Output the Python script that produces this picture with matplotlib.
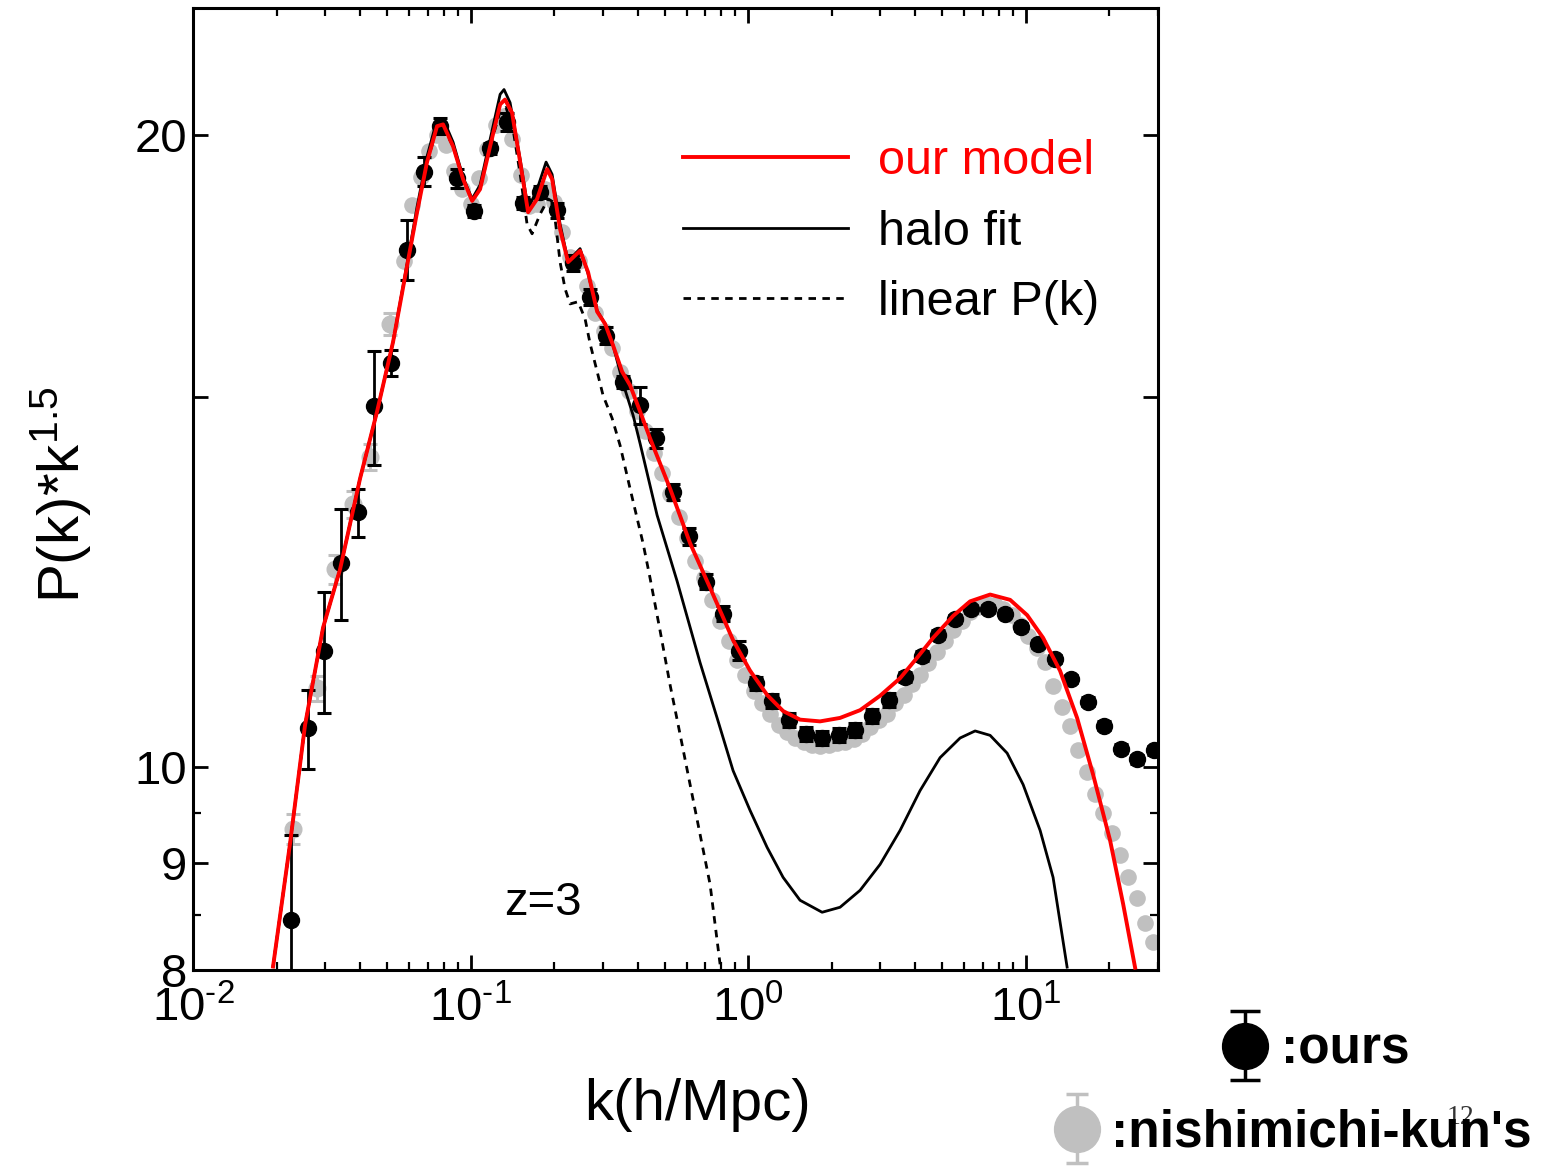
import numpy as np
import matplotlib
matplotlib.use('Agg')
import matplotlib.pyplot as plt
from matplotlib.ticker import LogLocator, NullFormatter
from matplotlib.container import ErrorbarContainer
from matplotlib.legend_handler import HandlerErrorbar

plt.rcParams['font.family'] = ['Liberation Sans', 'DejaVu Sans']
plt.rcParams['mathtext.fontset'] = 'custom'
plt.rcParams['mathtext.rm'] = 'Liberation Sans'
plt.rcParams['mathtext.it'] = 'Liberation Sans:italic'
plt.rcParams['mathtext.bf'] = 'Liberation Sans:bold'

# --- ours (black points with error bars) ---
k_ours = [0.02255, 0.02588, 0.02971, 0.03410, 0.03914, 0.04492, 0.05152, 0.05912, 0.06786, 0.07788,
          0.08938, 0.1026, 0.1177, 0.1351, 0.1551, 0.1780, 0.2042, 0.2344, 0.2690, 0.3087,
          0.3541, 0.4064, 0.4665, 0.5354, 0.6143, 0.7051, 0.8091, 0.9286, 1.066, 1.223,
          1.404, 1.611, 1.849, 2.122, 2.435, 2.795, 3.206, 3.680, 4.224, 4.846,
          5.563, 6.383, 7.326, 8.408, 9.647, 11.07, 12.71, 14.58, 16.73, 19.21,
          22.04, 25.29, 29.03]
pk_ours = [8.45, 10.43, 11.36, 12.51, 13.22, 14.85, 15.58, 17.64, 19.22, 20.20,
           19.08, 18.41, 19.72, 20.29, 18.57, 18.79, 18.42, 17.39, 16.75, 16.05,
           15.25, 14.87, 14.34, 13.52, 12.88, 12.25, 11.83, 11.36, 10.96, 10.75,
           10.53, 10.37, 10.32, 10.35, 10.41, 10.57, 10.76, 11.03, 11.29, 11.56,
           11.76, 11.89, 11.89, 11.83, 11.66, 11.44, 11.25, 11.01, 10.74, 10.46,
           10.20, 10.08, 10.18]
err_ours = [0.83, 0.45, 0.75, 0.76, 0.35, 0.93, 0.22, 0.58, 0.30, 0.18,
            0.20, 0.12, 0.12, 0.20, 0.12, 0.12, 0.15, 0.15, 0.15, 0.15,
            0.10, 0.30, 0.15, 0.12, 0.12, 0.10, 0.10, 0.12, 0.08, 0.08,
            0.08, 0.08, 0.08, 0.08, 0.08, 0.08, 0.08, 0.06, 0.06, 0.06,
            0.05, 0.05, 0.05, 0.05, 0.05, 0.05, 0.05, 0.05, 0.05, 0.05,
            0.05, 0.05, 0.05]

# --- nishimichi-kun's (gray points) ---
k_nishi_low = [0.02293, 0.02797, 0.03248, 0.03772, 0.04343, 0.05127]
pk_nishi_low = [9.34, 10.90, 12.42, 13.34, 14.05, 16.26]
err_nishi_low = [0.15, 0.15, 0.20, 0.20, 0.20, 0.20]

k_nishi = [0.05754, 0.06166, 0.06607, 0.07079, 0.07586, 0.08128, 0.08710, 0.09333, 0.1000, 0.1072,
           0.1148, 0.1230, 0.1318, 0.1413, 0.1514, 0.1622, 0.1738, 0.1862, 0.1995, 0.2138,
           0.2291, 0.2455, 0.2630, 0.2818, 0.3020, 0.3236, 0.3467, 0.3715, 0.3981, 0.4266,
           0.4571, 0.4898, 0.5248, 0.5623, 0.6026, 0.6457, 0.6918, 0.7413, 0.7943, 0.8511,
           0.9120, 0.9772, 1.047, 1.122, 1.202, 1.288, 1.380, 1.479, 1.585, 1.698,
           1.820, 1.950, 2.089, 2.239, 2.399, 2.570, 2.754, 2.951, 3.162, 3.388,
           3.631, 3.890, 4.169, 4.467, 4.786, 5.129, 5.495, 5.888, 6.310, 6.761,
           7.244, 7.762, 8.318, 8.913, 9.550, 10.23, 10.96, 11.75, 12.59, 13.49,
           14.45, 15.49, 16.60, 17.78, 19.05, 20.42, 21.88, 23.44, 25.12, 26.92,
           28.84]
pk_nishi = [17.42, 18.53, 19.10, 19.65, 20.00, 19.78, 19.23, 18.85, 18.55, 19.08,
            19.70, 20.22, 20.42, 19.91, 19.14, 18.51, 18.55, 18.85, 18.59, 17.98,
            17.50, 17.42, 16.95, 16.46, 16.14, 15.83, 15.42, 15.11, 14.77, 14.45,
            14.11, 13.80, 13.49, 13.16, 12.85, 12.54, 12.30, 12.01, 11.73, 11.48,
            11.24, 11.06, 10.87, 10.72, 10.59, 10.47, 10.39, 10.32, 10.28, 10.24,
            10.23, 10.24, 10.26, 10.28, 10.31, 10.37, 10.44, 10.53, 10.60, 10.72,
            10.82, 10.95, 11.06, 11.21, 11.34, 11.48, 11.62, 11.73, 11.85, 11.91,
            11.95, 11.94, 11.89, 11.81, 11.68, 11.54, 11.39, 11.22, 10.93, 10.68,
            10.46, 10.19, 9.946, 9.709, 9.509, 9.293, 9.072, 8.856, 8.655, 8.421,
            8.248]

# --- our model (red) ---
k_model = [0.01942, 0.02236, 0.02533, 0.02941, 0.03386, 0.03997, 0.04604, 0.05256, 0.05904, 0.06414,
           0.06967, 0.07571, 0.07960, 0.08648, 0.09397, 0.1013, 0.1082, 0.1176, 0.1278, 0.1331,
           0.1411, 0.1509, 0.1612, 0.1737, 0.1887, 0.1967, 0.2102, 0.2246, 0.2481, 0.2651,
           0.2858, 0.3053, 0.3262, 0.3515, 0.3756, 0.4081, 0.4434, 0.5235, 0.6180, 0.7295,
           0.8829, 1.017, 1.171, 1.337, 1.539, 1.817, 2.145, 2.533, 2.990, 3.529,
           4.064, 4.642, 5.480, 6.310, 7.449, 8.794, 10.13, 11.56, 13.31, 15.33,
           17.51, 20.16, 22.46, 24.81]
pk_model = [8.03, 9.19, 10.47, 11.65, 12.42, 13.72, 14.77, 15.94, 17.33, 18.38,
            19.42, 20.20, 20.24, 19.76, 19.06, 18.61, 18.85, 19.76, 20.69, 20.80,
            20.50, 19.42, 18.38, 18.65, 19.27, 19.06, 18.04, 17.40, 17.62, 17.21,
            16.48, 16.26, 15.88, 15.43, 15.20, 14.77, 14.34, 13.57, 12.78, 12.17,
            11.49, 11.11, 10.82, 10.63, 10.53, 10.51, 10.55, 10.64, 10.81, 11.02,
            11.27, 11.52, 11.80, 11.99, 12.08, 12.01, 11.81, 11.52, 11.11, 10.55,
            9.913, 9.222, 8.601, 8.02]

# --- halo fit (black solid) ---
k_halofit = [0.01942, 0.02236, 0.02533, 0.02941, 0.03386, 0.03997, 0.04604, 0.05256, 0.05904, 0.06414,
             0.06967, 0.07571, 0.07960, 0.08648, 0.09397, 0.1013, 0.1082, 0.1176, 0.1278, 0.1320,
             0.1388, 0.1509, 0.1612, 0.1737, 0.1871, 0.1967, 0.2102, 0.2246, 0.2481, 0.2651,
             0.2858, 0.3053, 0.3262, 0.3544, 0.3851, 0.4081, 0.4700, 0.5548, 0.6714, 0.7733,
             0.8829, 1.017, 1.171, 1.337, 1.539, 1.848, 2.145, 2.533, 2.990, 3.529,
             4.166, 4.919, 5.808, 6.577, 7.449, 8.578, 9.795, 11.28, 12.56, 14.11]
pk_halofit = [8.03, 9.19, 10.47, 11.65, 12.42, 13.72, 14.77, 15.94, 17.37, 18.49,
              19.54, 20.35, 20.37, 19.85, 19.10, 18.65, 18.94, 19.91, 20.92, 21.03,
              20.73, 19.48, 18.45, 18.85, 19.42, 19.16, 18.14, 17.42, 17.66, 17.18,
              16.50, 16.26, 15.88, 15.23, 14.71, 14.26, 13.18, 12.26, 11.21, 10.55,
              9.957, 9.530, 9.152, 8.856, 8.636, 8.523, 8.570, 8.731, 8.983, 9.324,
              9.741, 10.10, 10.32, 10.40, 10.35, 10.15, 9.806, 9.324, 8.856, 8.025]

# --- linear P(k) (black dashed) ---
k_linear = [0.01942, 0.02236, 0.02533, 0.02941, 0.03386, 0.03997, 0.04604, 0.05256, 0.05904, 0.06414,
            0.06967, 0.07571, 0.07960, 0.08648, 0.09397, 0.1013, 0.1082, 0.1176, 0.1278, 0.1342,
            0.1423, 0.1509, 0.1598, 0.1666, 0.1780, 0.1903, 0.1983, 0.2102, 0.2190, 0.2284,
            0.2440, 0.2586, 0.2696, 0.2858, 0.3003, 0.3236, 0.3457, 0.3756, 0.4183, 0.4434,
            0.4818, 0.5235, 0.5689, 0.6180, 0.6714, 0.7295, 0.7927]
pk_linear = [8.03, 9.19, 10.47, 11.65, 12.42, 13.72, 14.77, 15.94, 17.33, 18.38,
             19.42, 20.15, 20.18, 19.76, 19.06, 18.61, 18.85, 19.76, 20.53, 20.62,
             20.13, 19.16, 18.14, 17.95, 18.34, 18.65, 18.59, 17.40, 16.90, 16.62,
             16.66, 16.35, 15.91, 15.43, 15.03, 14.66, 14.23, 13.57, 12.78, 12.30,
             11.61, 10.94, 10.36, 9.806, 9.284, 8.788, 8.05]

x_ticks = [0.01, 0.1, 1, 10]
x_ticklabels = [r'$10^{\text{-}2}$', r'$10^{\text{-}1}$', r'$10^{0}$', r'$10^{1}$']
y_ticks = [8, 9, 10, 15, 20]
y_ticklabels = ['8', '9', '10', '', '20']

gray = '#c0c0c0'

fig = plt.figure(figsize=(15.67, 11.72), dpi=100)
ax = fig.add_axes([0.1232, 0.1724, 0.6158, 0.8208])
ax.set_xscale('log')
ax.set_yscale('log')

ax.errorbar(k_nishi_low, pk_nishi_low, yerr=err_nishi_low, fmt='o', color=gray, ms=12,
            elinewidth=2, capsize=4.7, capthick=2.2, zorder=2)
ax.plot(k_nishi, pk_nishi, 'o', color=gray, ms=12, mew=0, zorder=2)
ax.errorbar(k_ours, pk_ours, yerr=err_ours, fmt='o', color='black', ms=11.5,
            elinewidth=2, capsize=4.7, capthick=2.2, zorder=3)

line_lin, = ax.plot(k_linear, pk_linear, color='black', lw=2, dashes=(2.7, 2.3), zorder=4)
line_halo, = ax.plot(k_halofit, pk_halofit, color='black', lw=2, zorder=4)
line_model, = ax.plot(k_model, pk_model, color='red', lw=2.8, zorder=5)

ax.set_xlim(0.01, 30)
ax.set_ylim(8, 23)
ax.set_xticks(x_ticks, labels=x_ticklabels)
ax.xaxis.set_minor_locator(LogLocator(base=10, subs=np.arange(2, 10), numticks=20))
ax.xaxis.set_minor_formatter(NullFormatter())
ax.set_yticks(y_ticks, labels=y_ticklabels)
ax.set_yticks([8.5, 9.5], minor=True)
ax.yaxis.set_minor_formatter(NullFormatter())

ax.tick_params(which='both', direction='in', top=True, right=True, labelsize=34)
ax.tick_params(which='major', length=11, width=2)
ax.tick_params(which='minor', length=6, width=1.6)
ax.tick_params(axis='x', pad=12)
ax.tick_params(axis='y', pad=4)
for s in ax.spines.values():
    s.set_linewidth(2.2)

ax.set_xlabel('k(h/Mpc)', fontsize=42)
ax.xaxis.set_label_coords(0.523, -0.112)
ax.set_ylabel(r'P(k)*k$^{1.5}$', fontsize=42)
ax.yaxis.set_label_coords(-0.104, 0.494)

ax.text(0.3627, 0.0696, 'z=3', transform=ax.transAxes, fontsize=34, ha='center', va='center')

leg = ax.legend([line_model, line_halo, line_lin], ['our model', 'halo fit', 'linear P(k)'],
                loc='upper left', bbox_to_anchor=(0.5078, 0.864), frameon=False, fontsize=35,
                handlelength=3.4, handletextpad=0.6, labelspacing=0.53, borderpad=0,
                borderaxespad=0)
leg.get_texts()[0].set_color('red')

# legend for the two point sets, outside the axes
h_ours = ax.errorbar([np.nan], [np.nan], yerr=[1], fmt='o', color='black', ms=33,
                     elinewidth=2.5, capsize=11, capthick=2.5)
h_nishi = ax.errorbar([np.nan], [np.nan], yerr=[1], fmt='o', color=gray, ms=33,
                      elinewidth=2.5, capsize=8, capthick=2.5)
hmap = {ErrorbarContainer: HandlerErrorbar(yerr_size=0.68)}
fig.legend([h_ours], [':ours'], loc='center left', bbox_to_anchor=(1219 / 1567, 1 - 1050 / 1172),
           frameon=False, prop={'size': 37, 'weight': 'bold'}, handlelength=1.0,
           handletextpad=0.2, borderpad=0, borderaxespad=0, handler_map=hmap)
fig.legend([h_nishi], [":nishimichi-kun's"], loc='center left',
           bbox_to_anchor=(1051 / 1567, 1 - 1133 / 1172), frameon=False,
           prop={'size': 37, 'weight': 'bold'}, handlelength=1.0, handletextpad=0.16,
           borderpad=0, borderaxespad=0, handler_map=hmap)

fig.text(1460 / 1567, 1 - 1118 / 1172, '12', fontsize=20, family='Liberation Serif',
         color='#333333', ha='center', va='center')

fig.savefig('out.png', dpi=100)
